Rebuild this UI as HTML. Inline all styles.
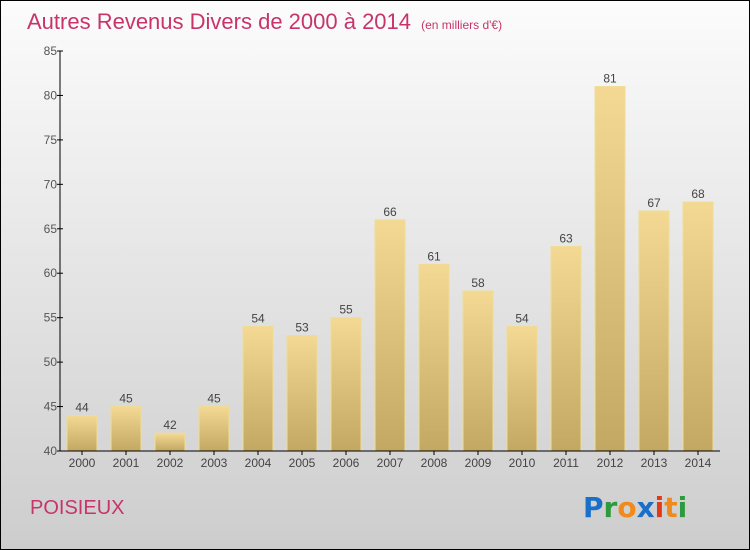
<!DOCTYPE html>
<html><head><meta charset="utf-8"><style>
body{margin:0;width:750px;height:550px;overflow:hidden}
svg{display:block;font-family:"Liberation Sans",sans-serif}
</style></head><body>
<svg width="750" height="550">
<defs>
<linearGradient id="bg" x1="0" y1="0" x2="0" y2="1"><stop offset="0" stop-color="#fcfcfc"/><stop offset="1" stop-color="#cdcdcd"/></linearGradient>
<linearGradient id="bar" x1="0" y1="0" x2="0" y2="1"><stop offset="0" stop-color="#f3d993"/><stop offset="1" stop-color="#c2a862"/></linearGradient>
</defs>
<rect x="0.5" y="0.5" width="749" height="549" fill="url(#bg)" stroke="#000"/>
<text x="27" y="29" font-size="22" fill="#c8346a">Autres Revenus Divers de 2000 à 2014 <tspan font-size="12" dx="4">(en milliers d'€)</tspan></text>
<g id="yaxis"></g>
<g id="bars"></g>
<g id="xaxis"></g>
<text x="30" y="514" font-size="20" fill="#c8346a">POISIEUX</text>
<g font-size="28" font-weight="bold" font-family="'DejaVu Sans',sans-serif">
<text x="583" y="517"><tspan fill="#1a6fc9">P</tspan><tspan fill="#2e9a3e">r</tspan><tspan fill="#f08a1c">o</tspan><tspan fill="#1a6fc9">x</tspan><tspan fill="#e03a1c">i</tspan><tspan fill="#f08a1c">t</tspan><tspan fill="#2e9a3e">i</tspan></text>
</g>
</svg>
<script>
const years=["2000","2001","2002","2003","2004","2005","2006","2007","2008","2009","2010","2011","2012","2013","2014"];
const values=[44,45,42,45,54,53,55,66,61,58,54,63,81,67,68];
const yTicks=[40,45,50,55,60,65,70,75,80,85];
const NS="http://www.w3.org/2000/svg";
const x0=60,band=44,yMin=40,yMax=85,yTop=51,yBot=451;
const ys=v=>yBot-(v-yMin)/(yMax-yMin)*(yBot-yTop);
const xs=i=>x0+band*i+band/2;
function mk(t,a,p){const e=document.createElementNS(NS,t);for(const k in a)e.setAttribute(k,a[k]);p.appendChild(e);return e;}
const ya=document.getElementById('yaxis'),xa=document.getElementById('xaxis'),bg=document.getElementById('bars');
let l=mk('line',{x1:x0,y1:yTop,x2:x0,y2:yBot,stroke:'#000'},ya);


yTicks.forEach(v=>{
 const t=mk('line',{x1:x0-3,x2:x0+3,y1:ys(v),y2:ys(v),stroke:'#000'},ya);
 
 
 const tx=mk('text',{x:x0-3,y:ys(v)+4,'text-anchor':'end','font-size':12,fill:'#555'},ya);
 tx.textContent=v;
 
 
});
values.forEach((v,i)=>{
 const r=mk('rect',{x:xs(i)-15,y:ys(v),width:30,height:yBot-ys(v),fill:'url(#bar)',stroke:'#f1dc94','stroke-width':1},bg);
 
 
 const t=mk('text',{x:xs(i),y:ys(v)-4,'text-anchor':'middle','font-size':12,fill:'#444'},bg);
 t.textContent=v;
 
 
 const tk=mk('line',{x1:xs(i),x2:xs(i),y1:yBot,y2:yBot+4,stroke:'#000'},xa);
 
 
 const xl=mk('text',{x:xs(i),y:yBot+16,'text-anchor':'middle','font-size':12,fill:'#444'},xa);
 xl.textContent=years[i];
 
 
});
const xl=mk('line',{x1:x0,y1:yBot,x2:x0+band*years.length,y2:yBot,stroke:'#000'},xa);


</script>
</body></html>
